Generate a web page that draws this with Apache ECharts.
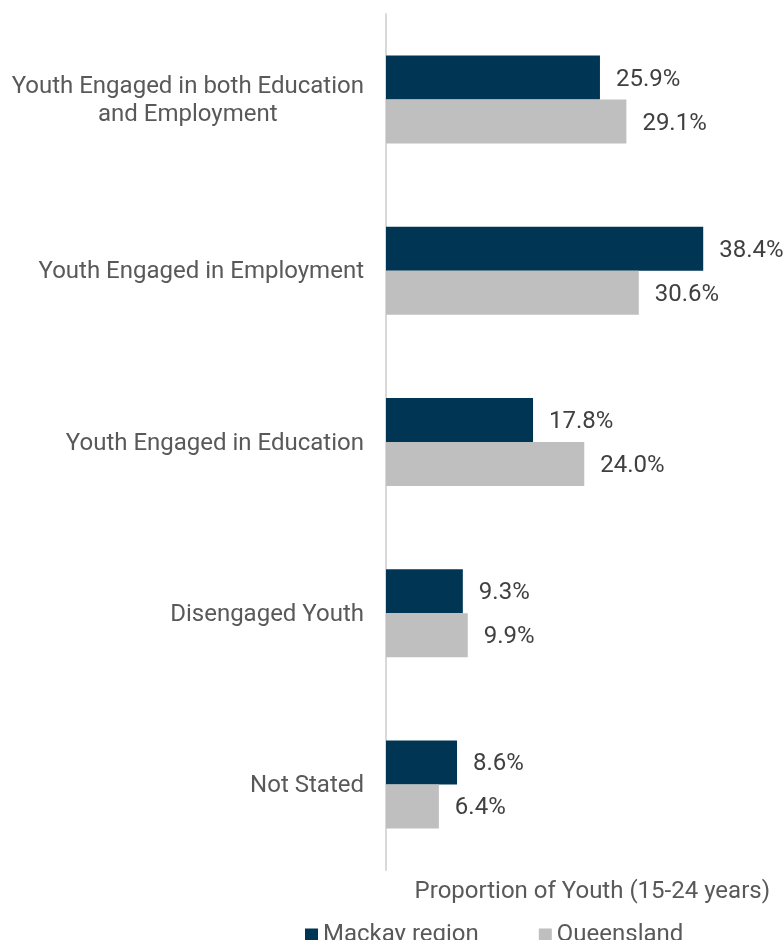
<!DOCTYPE html>
<html>
<head>
<meta charset="utf-8">
<script src="https://cdn.jsdelivr.net/npm/echarts@6/dist/echarts.min.js"></script>
<style>
  html, body { margin: 0; padding: 0; background: #fff; }
  #chart { width: 784px; height: 940px; }
</style>
</head>
<body>
<div id="chart"></div>
<script>
// Youth engagement categories, top to bottom
const categories = [
  'Youth Engaged in both Education\nand Employment',
  'Youth Engaged in Employment',
  'Youth Engaged in Education',
  'Disengaged Youth',
  'Not Stated'
];
const seriesNames = ['Mackay region', 'Queensland'];
const mackayValues = [25.9, 38.4, 17.8, 9.3, 8.6];
const queenslandValues = [29.1, 30.6, 24.0, 9.9, 6.4];
const axisTitle = 'Proportion of Youth (15-24 years)';

const FONT = 'Roboto, "Noto Sans", sans-serif';
const FS = 24;

const chart = echarts.init(document.getElementById('chart'), null, { renderer: 'canvas' });

const valueLabel = {
  show: true,
  position: 'right',
  distance: 16,
  offset: [0, 2],
  fontFamily: FONT,
  fontSize: FS,
  color: '#404040',
  formatter: p => p.value.toFixed(1) + '%'
};

chart.setOption({
  animation: false,
  backgroundColor: '#fff',
  title: {
    text: axisTitle,
    right: 14,
    top: 880,
    padding: 0,
    textStyle: { fontFamily: FONT, fontSize: FS, fontWeight: 'normal', color: '#595959' }
  },
  legend: {
    left: 300,
    top: 918,
    itemWidth: 13,
    itemHeight: 13,
    itemGap: 60,
    icon: 'rect',
    textStyle: { fontFamily: FONT, fontSize: FS, color: '#595959' },
    data: seriesNames
  },
  grid: { left: 386, right: 18, top: 14, height: 856, containLabel: false },
  xAxis: {
    type: 'value',
    min: 0,
    max: 46,
    show: false
  },
  yAxis: {
    type: 'category',
    inverse: true,
    data: categories,
    axisLine: { show: true, lineStyle: { color: '#d9d9d9', width: 2 } },
    axisTick: { show: false },
    axisLabel: {
      margin: 22,
      padding: [3, 0, 0, 0],
      fontFamily: FONT,
      fontSize: FS,
      color: '#595959',
      lineHeight: 28,
      formatter: v => v.split('\n').map(s => '{c|' + s + '}').join('\n'),
      rich: {
        c: { align: 'center', fontFamily: FONT, fontSize: FS, color: '#595959', lineHeight: 28 }
      }
    }
  },
  series: [
    {
      name: seriesNames[0],
      type: 'bar',
      data: mackayValues,
      barWidth: 44,
      barGap: '0%',
      itemStyle: { color: '#003653' },
      label: valueLabel
    },
    {
      name: seriesNames[1],
      type: 'bar',
      data: queenslandValues,
      barWidth: 44,
      barGap: '0%',
      itemStyle: { color: '#bfbfbf' },
      label: valueLabel
    }
  ]
});
</script>
</body>
</html>
